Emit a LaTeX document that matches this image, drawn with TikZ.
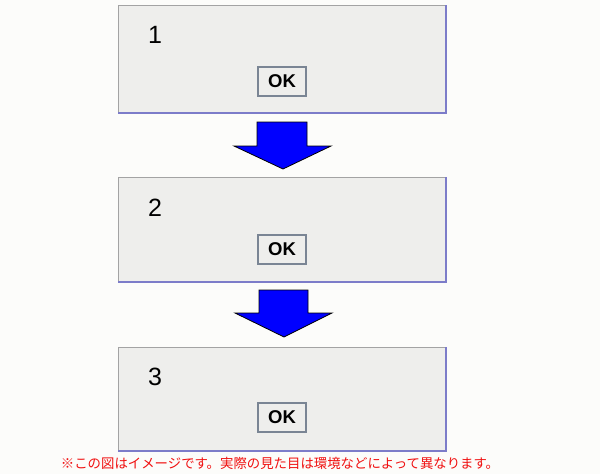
\documentclass[tikz,border=0pt]{standalone}
\usepackage{fontspec}
\setmainfont{Liberation Sans}
\newfontfamily\jpfont{Noto Sans CJK JP}
\usetikzlibrary{calc}
\definecolor{panelgray}{HTML}{EEEEEC}
\definecolor{edgegray}{HTML}{A3A3A3}
\definecolor{edgeviolet}{HTML}{7C7CC9}
\definecolor{buttonedge}{HTML}{7A8594}
\definecolor{pagebg}{HTML}{FCFCFA}
\definecolor{notered}{HTML}{F01010}

\tikzset{
  panel/.style={fill=panelgray, draw=none, anchor=north west, minimum width=328, minimum height=106, inner sep=0, outer sep=0},
  numlabel/.style={font=\fontsize{25}{28}\selectfont, inner sep=0},
  okbutton/.style={draw=buttonedge, line width=2, fill=panelgray, minimum width=48, minimum height=29, inner sep=0, font=\bfseries\fontsize{18.5}{20}\selectfont},
  downarrow/.style={fill=blue, draw=black, line width=0.8, line join=miter}
}

\begin{document}
\begin{tikzpicture}[x=1pt, y=-1pt]
  \fill[pagebg] (0,0) rectangle (600,474);
  \useasboundingbox (0,0) rectangle (600,474);
  % dialog panels
  \node[panel, minimum height=108] (box1) at (118,5) {};
  \node[panel, minimum height=105] (box2) at (118,177) {};
  \node[panel, minimum height=104] (box3) at (118,347) {};
  \draw[edgegray, line width=1] (box1.south west) |- (box1.north east);
  \draw[edgeviolet, line width=2] (box1.north east) |- (box1.south west);
  \draw[edgegray, line width=1] (box2.south west) |- (box2.north east);
  \draw[edgeviolet, line width=2] (box2.north east) |- (box2.south west);
  \draw[edgegray, line width=1] (box3.south west) |- (box3.north east);
  \draw[edgeviolet, line width=2] (box3.north east) |- (box3.south west);
  \node[numlabel] (num1) at ($(box1.north west)+(37,30)$) {1};
  \node[numlabel] (num2) at ($(box2.north west)+(37,31)$) {2};
  \node[numlabel] (num3) at ($(box3.north west)+(37,30)$) {3};
  \node[okbutton] (ok1) at (282,81) {OK};
  \node[okbutton] (ok2) at (282,249) {OK};
  \node[okbutton] (ok3) at (282,417) {OK};
  % block arrows
  \draw[downarrow] (257,122) -- (307,122) -- (307,146) -- (331,146) -- (283,169) -- (234,146) -- (257,146) -- cycle;
  \draw[downarrow] (259,290) -- (308,290) -- (308,313) -- (332,313) -- (284,337) -- (235,313) -- (259,313) -- cycle;
  \node[text=notered, font=\jpfont\fontsize{13.4}{15}\selectfont, inner sep=0] (note) at (280,463) {※この図はイメージです。実際の見た目は環境などによって異なります。};
\end{tikzpicture}
\end{document}
